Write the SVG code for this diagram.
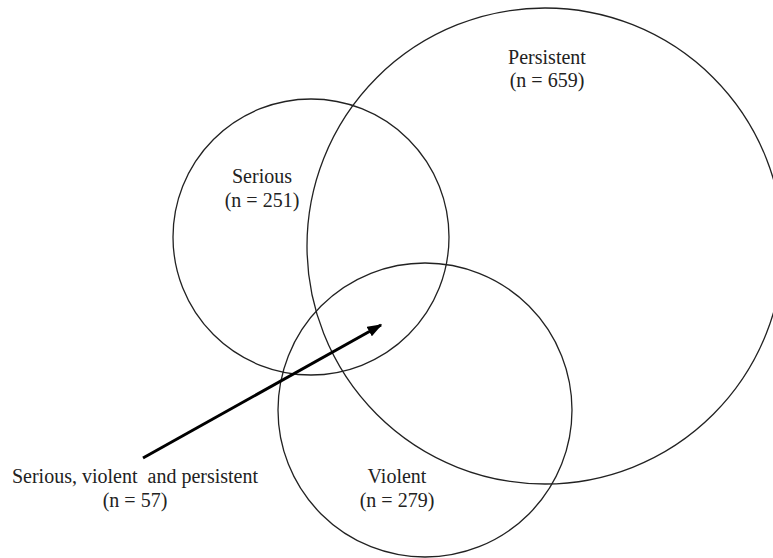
<svg xmlns="http://www.w3.org/2000/svg" width="773" height="558" viewBox="0 0 773 558">
<style>
.c{fill:none;stroke:#222;stroke-width:1.3}
.t{font-family:"Liberation Serif","Times New Roman",serif;font-size:20px;fill:#222;text-anchor:middle;white-space:pre}
</style>
<defs>
<marker id="ah" markerWidth="5" markerHeight="3.6" refX="4.5" refY="1.8" orient="auto" markerUnits="strokeWidth">
<path d="M0,0 L5,1.8 L0,3.6 Z" fill="#000"/>
</marker>
</defs>
<rect width="773" height="558" fill="#fff"/>
<g id="persistent">
<circle class="c" cx="545" cy="246" r="238"/>
<text class="t" x="547" y="64">Persistent</text>
<text class="t" x="547" y="87">(n = 659)</text>
</g>
<g id="serious">
<circle class="c" cx="311" cy="237" r="138"/>
<text class="t" x="262" y="183">Serious</text>
<text class="t" x="262" y="207">(n = 251)</text>
</g>
<g id="violent">
<circle class="c" cx="425" cy="410" r="147"/>
<text class="t" x="397" y="483">Violent</text>
<text class="t" x="397" y="507">(n = 279)</text>
</g>
<g id="all-three">
<text class="t" x="135" y="483" xml:space="preserve">Serious, violent  and persistent</text>
<text class="t" x="135" y="507">(n = 57)</text>
</g>
<g id="connectors">
<line x1="143" y1="458" x2="381" y2="325" stroke="#000" stroke-width="3" marker-end="url(#ah)"/>
</g>
</svg>
